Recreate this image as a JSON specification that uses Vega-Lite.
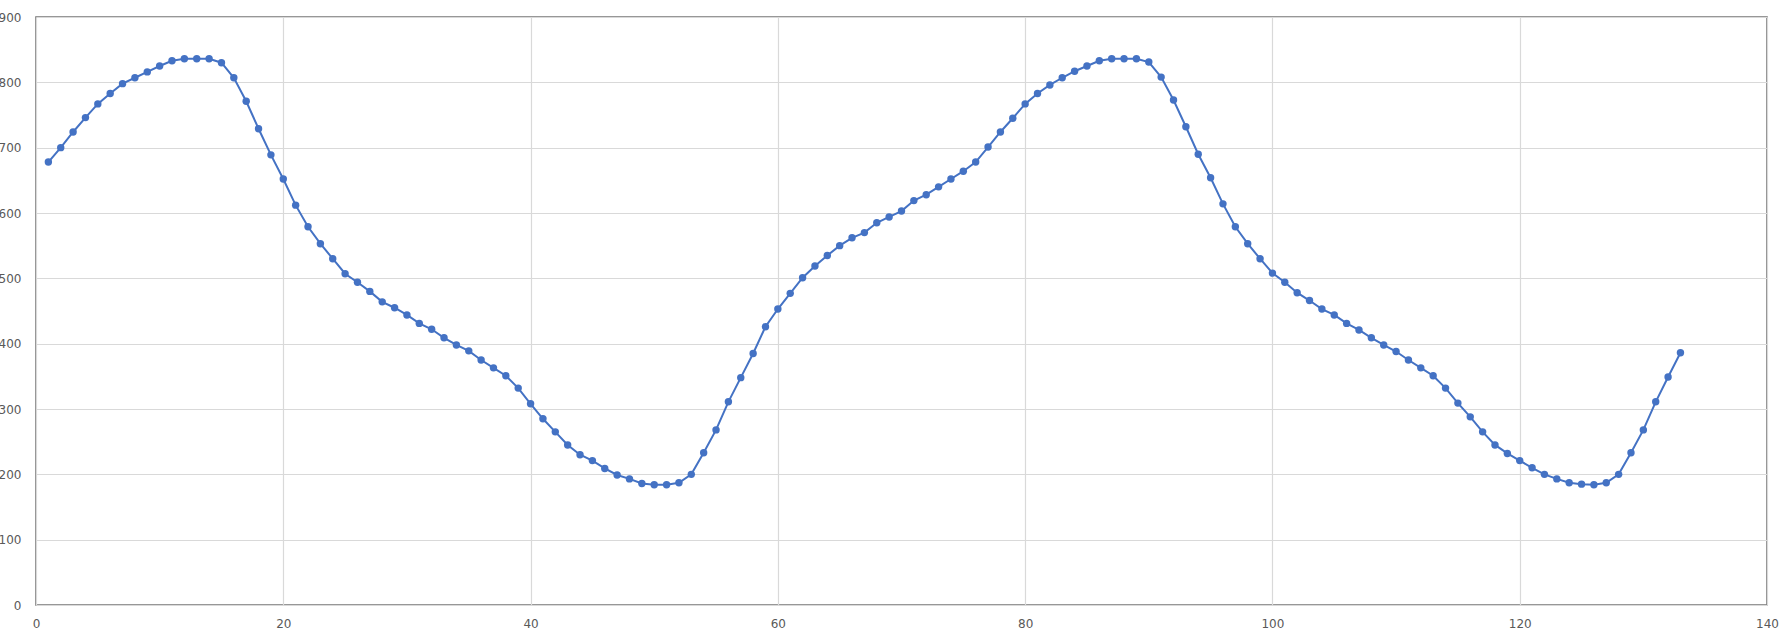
{
  "$schema": "https://vega.github.io/schema/vega-lite/v6.json",
  "width": 1731,
  "height": 588,
  "autosize": {"type": "none"},
  "padding": {"left": 36, "top": 17, "right": 22, "bottom": 29},
  "background": "white",
  "config": {
    "view": {"stroke": "#757575", "strokeWidth": 1.6},
    "axis": {
      "labelFont": "DejaVu Sans",
      "labelFontSize": 12,
      "labelColor": "#595959",
      "gridColor": "#d9d9d9",
      "gridWidth": 1.2,
      "ticks": false,
      "domain": false,
      "title": null
    }
  },
  "data": {"values": [
    {"x":1,"y":678},{"x":2,"y":700},{"x":3,"y":724},{"x":4,"y":746},{"x":5,"y":767},{"x":6,"y":783},{"x":7,"y":798},{"x":8,"y":807},{"x":9,"y":816},{"x":10,"y":825},
    {"x":11,"y":833},{"x":12,"y":836},{"x":13,"y":836},{"x":14,"y":836},{"x":15,"y":830},{"x":16,"y":807},{"x":17,"y":771},{"x":18,"y":729},{"x":19,"y":689},{"x":20,"y":652},
    {"x":21,"y":612},{"x":22,"y":579},{"x":23,"y":553},{"x":24,"y":530},{"x":25,"y":507},{"x":26,"y":494},{"x":27,"y":480},{"x":28,"y":464},{"x":29,"y":455},{"x":30,"y":444},
    {"x":31,"y":431},{"x":32,"y":422},{"x":33,"y":409},{"x":34,"y":398},{"x":35,"y":389},{"x":36,"y":375},{"x":37,"y":363},{"x":38,"y":351},{"x":39,"y":332},{"x":40,"y":308},
    {"x":41,"y":285},{"x":42,"y":265},{"x":43,"y":245},{"x":44,"y":230},{"x":45,"y":221},{"x":46,"y":209},{"x":47,"y":199},{"x":48,"y":193},{"x":49,"y":186},{"x":50,"y":184},
    {"x":51,"y":184},{"x":52,"y":187},{"x":53,"y":200},{"x":54,"y":233},{"x":55,"y":268},{"x":56,"y":311},{"x":57,"y":348},{"x":58,"y":385},{"x":59,"y":426},{"x":60,"y":453},
    {"x":61,"y":477},{"x":62,"y":501},{"x":63,"y":519},{"x":64,"y":535},{"x":65,"y":550},{"x":66,"y":562},{"x":67,"y":570},{"x":68,"y":585},{"x":69,"y":594},{"x":70,"y":603},
    {"x":71,"y":619},{"x":72,"y":628},{"x":73,"y":640},{"x":74,"y":652},{"x":75,"y":664},{"x":76,"y":678},{"x":77,"y":701},{"x":78,"y":724},{"x":79,"y":745},{"x":80,"y":767},
    {"x":81,"y":783},{"x":82,"y":796},{"x":83,"y":807},{"x":84,"y":817},{"x":85,"y":825},{"x":86,"y":833},{"x":87,"y":836},{"x":88,"y":836},{"x":89,"y":836},{"x":90,"y":831},
    {"x":91,"y":808},{"x":92,"y":773},{"x":93,"y":732},{"x":94,"y":690},{"x":95,"y":654},{"x":96,"y":614},{"x":97,"y":579},{"x":98,"y":553},{"x":99,"y":530},{"x":100,"y":508},
    {"x":101,"y":494},{"x":102,"y":478},{"x":103,"y":466},{"x":104,"y":453},{"x":105,"y":444},{"x":106,"y":431},{"x":107,"y":421},{"x":108,"y":409},{"x":109,"y":398},{"x":110,"y":388},
    {"x":111,"y":375},{"x":112,"y":363},{"x":113,"y":351},{"x":114,"y":332},{"x":115,"y":309},{"x":116,"y":288},{"x":117,"y":265},{"x":118,"y":245},{"x":119,"y":232},{"x":120,"y":221},
    {"x":121,"y":210},{"x":122,"y":200},{"x":123,"y":193},{"x":124,"y":187},{"x":125,"y":185},{"x":126,"y":184},{"x":127,"y":187},{"x":128,"y":200},{"x":129,"y":233},{"x":130,"y":268},
    {"x":131,"y":311},{"x":132,"y":349},{"x":133,"y":386}
  ]},
  "encoding": {
    "x": {"field": "x", "type": "quantitative",
          "scale": {"domain": [0, 140], "nice": false, "zero": false},
          "axis": {"values": [0,20,40,60,80,100,120,140], "labelPadding": 13, "labelFlush": false}},
    "y": {"field": "y", "type": "quantitative",
          "scale": {"domain": [0, 900], "nice": false},
          "axis": {"values": [0,100,200,300,400,500,600,700,800,900], "labelPadding": 15, "labelFlush": false}}
  },
  "layer": [
    {"mark": {"type": "line", "color": "#4472C4", "strokeWidth": 2}},
    {"mark": {"type": "point", "filled": true, "opacity": 1, "color": "#4472C4", "size": 55}}
  ]
}
